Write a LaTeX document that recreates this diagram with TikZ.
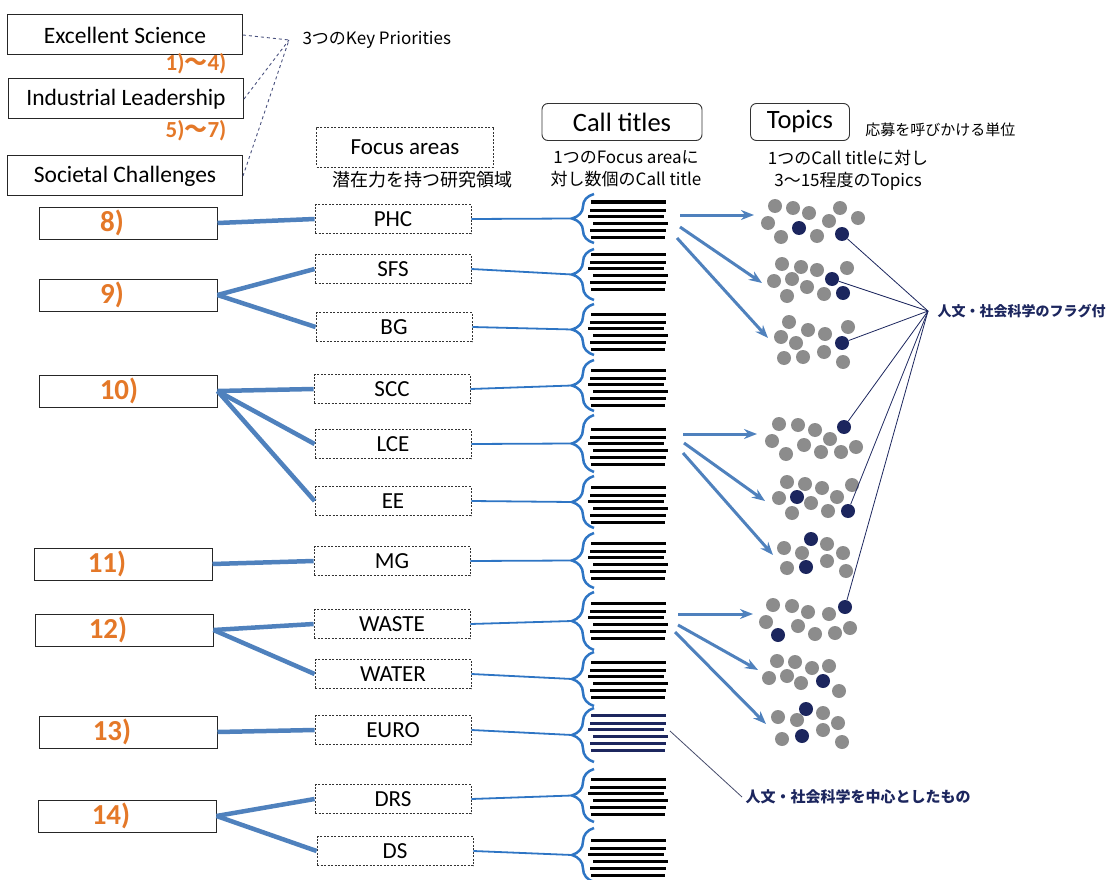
\documentclass[tikz,border=0pt]{standalone}
\usepackage{fontspec}
\setmainfont{Carlito}
\newfontfamily\jp{Noto Sans CJK JP}
\usetikzlibrary{arrows.meta}
\usetikzlibrary{positioning}
\usetikzlibrary{decorations.pathreplacing}
\definecolor{hzorange}{RGB}{228,120,40}
\definecolor{hzblue}{RGB}{79,129,189}
\definecolor{hzbrace}{RGB}{46,117,196}
\definecolor{hznavy}{RGB}{28,38,94}
\definecolor{hzgrey}{RGB}{140,140,140}

\begin{document}
\begin{tikzpicture}[x=1pt,y=-1pt,
    kpbox/.style={draw=black!85,line width=1pt,minimum width=235pt,minimum height=40pt,font=\fontsize{23.5}{26}\selectfont},
    numbox/.style={draw=black!85,line width=1pt,minimum width=178pt,minimum height=32pt},
    numtxt/.style={text=hzorange,font=\fontsize{29}{31}\selectfont\bfseries,xshift=-16pt},
    ordtxt/.style={text=hzorange,font=\fontsize{23}{25}\selectfont\bfseries},
    fabox/.style={draw=black!80,dash pattern=on 2pt off 1.5pt,line width=0.8pt,minimum width=156pt,minimum height=29pt,font=\fontsize{23}{25}\selectfont},
    headbox/.style={draw=black!80,rounded corners=6pt,line width=0.9pt,minimum height=37pt,font=\fontsize{26.5}{28}\selectfont},
    jptxt/.style={font=\jp\fontsize{17}{22}\selectfont,align=center},
    flagtxt/.style={text=hznavy,font=\jp\bfseries\fontsize{14}{16}\selectfont},
    kpline/.style={hznavy!80,dashed,line width=0.9pt},
    biglink/.style={hzblue,line width=4.5pt},
    thinlink/.style={hzbrace,line width=1.8pt},
    callbrace/.style={hzbrace,line width=2.5pt,decorate,decoration={brace,amplitude=22pt}},
    bar/.style={line width=3pt},
    callarrow/.style={hzblue,line width=3pt,-{Stealth[length=13pt,width=10pt]}},
    gdot/.style={circle,fill=hzgrey,minimum size=14pt,inner sep=0pt},
    ndot/.style={circle,fill=hznavy,minimum size=14pt,inner sep=0pt},
    flagline/.style={hznavy,line width=0.8pt}]
  \useasboundingbox (0,0) rectangle (1109,880);

  % key priorities
  \node[kpbox] (es) at (125,35) {Excellent Science};
  \node[kpbox] (il) at (126,99) {Industrial Leadership};
  \node[kpbox] (sc) at (125,176) {Societal Challenges};
  \node[ordtxt] (r14) at (196,64) {1){\jp\bfseries 〜}4)};
  \node[ordtxt] (r57) at (196,131) {5){\jp\bfseries 〜}7)};
  \coordinate (kp) at (289,40);
  \node[jptxt,font=\jp\fontsize{17}{19}\selectfont,right=10pt of kp] (kpt) {3つのKey Priorities};
  \foreach \b in {es,il,sc} \draw[kpline] (\b.east) -- (kp);

  % column heads
  \node[fabox,minimum width=177pt,minimum height=40pt] (fa) at (405,147) {Focus areas};
  \node[jptxt,font=\jp\fontsize{18}{20}\selectfont,below=0pt of fa,xshift=17pt] (fat) {潜在力を持つ研究領域};
  \node[headbox,minimum width=160pt] (ct) at (622,122) {Call titles};
  \node[jptxt] (ctt) at (626,169) {1つのFocus areaに\\対し数個のCall title};
  \node[headbox,minimum width=99pt] (tp) at (800,122) {Topics};
  \node[jptxt,font=\jp\fontsize{15}{17}\selectfont,right=12pt of tp,yshift=-8pt] (tpu) {応募を呼びかける単位};
  \node[jptxt] (tpt) at (848,170) {1つのCall titleに対し\\3〜15程度のTopics};

  % challenges
  \node[numbox,label={[numtxt]center:8)}] (n8) at (128,223) {};
  \node[numbox,label={[numtxt]center:9)}] (n9) at (128,295) {};
  \node[numbox,label={[numtxt,xshift=7pt]center:10)}] (n10) at (128,391) {};
  \node[numbox,label={[numtxt]center:11)}] (n11) at (123,564) {};
  \node[numbox,label={[numtxt]center:12)}] (n12) at (124,630) {};
  \node[numbox,label={[numtxt]center:13)}] (n13) at (128,732) {};
  \node[numbox,label={[numtxt]center:14)}] (n14) at (127,816) {};

  % focus areas
  \node[fabox] (phc) at (393,219) {PHC};
  \node[fabox] (sfs) at (393,269) {SFS};
  \node[fabox] (bg) at (394,327) {BG};
  \node[fabox] (scc) at (392,389) {SCC};
  \node[fabox] (lce) at (393,444) {LCE};
  \node[fabox] (ee) at (393,501) {EE};
  \node[fabox] (mg) at (392,561) {MG};
  \node[fabox] (waste) at (392,624) {WASTE};
  \node[fabox] (water) at (393,674) {WATER};
  \node[fabox] (euro) at (393,730) {EURO};
  \node[fabox] (drs) at (393,799) {DRS};
  \node[fabox] (ds) at (395,851) {DS};

  \draw[biglink] (n8.east) -- (phc.west);
  \foreach \f in {sfs,bg} \draw[biglink] (n9.east) -- (\f.west);
  \foreach \f in {scc,lce,ee} \draw[biglink] (n10.east) -- (\f.west);
  \draw[biglink] (n11.east) -- (mg.west);
  \foreach \f in {waste,water} \draw[biglink] (n12.east) -- (\f.west);
  \draw[biglink] (n13.east) -- (euro.west);
  \foreach \f in {drs,ds} \draw[biglink] (n14.east) -- (\f.west);

  % call titles
  \foreach \g/\c in {202/black,254/black,314/black,370/black,429/black,487/black,543/black,603/black,662/black,715/hznavy,779/black,840/black}
    \foreach \dy/\xa/\xb in {0/591/666,8/590/666,14/588/664,21/593/668,28/590/666,35/591/665}
      \draw[bar,\c] (\xa,\g+\dy) -- (\xb,\g+\dy);
  \foreach \t/\b [count=\i] in {194/243,249/300,304/355,360/411,415/472,476/528,533/588,592/650,652/706,708/762,769/822,828/882} {
    \draw[callbrace] (594,\b) -- (594,\t);
    \coordinate (br\i) at (572,{(\t+\b)/2});
  }
  \foreach \f [count=\i] in {phc,sfs,bg,scc,lce,ee,mg,waste,water,euro,drs,ds}
    \draw[thinlink] (\f.east) -- (br\i);

  % topics
  \foreach \x/\y [count=\k] in {775/206,793/208,809/213,840/208,858/218,768/223,829/221,781/237,817/236,
      782/264,801/267,817/270,847/268,774/281,792/279,807/287,787/296,824/294,
      789/322,808/330,848/327,781/337,825/334,796/343,784/358,803/357,824/352,843/362,
      779/424,798/425,815/430,772/441,830/439,786/454,804/445,821/452,841/452,856/447,
      787/482,805/484,822/488,852/485,779/498,811/503,837/497,792/513,828/511,
      827/544,784/548,802/553,843/553,827/561,787/568,846/571,
      773/605,792/606,808/612,829/614,766/622,798/626,850/628,815/634,835/633,
      777/661,795/662,812/668,829/666,769/678,787/676,801/683,839/691,
      823/713,778/717,797/720,838/723,823/730,782/739,842/742}
    \node[gdot] (g\k) at (\x,\y) {};
  \foreach \n/\x/\y in {na1/799/228,na2/842/234,nb1/832/279,nb2/843/293,nc1/842/343,nd1/844/427,
      ne1/797/497,ne2/848/511,nf1/811/539,nf2/806/567,ng1/845/607,ng2/778/635,nh1/823/681,ni1/806/709,ni2/802/736}
    \node[ndot] (\n) at (\x,\y) {};

  \foreach \n/\sx/\sy/\ex/\ey in {1/680/215/754/215,2/680/227/762/283,3/677/238/768/338,
      4/683/434/757/434,5/684/443/765/501,6/683/453/773/555,
      7/678/614/753/614,8/678/625/758/670,9/675/632/766/724} {
    \coordinate (s\n) at (\sx,\sy);
    \coordinate (e\n) at (\ex,\ey);
    \draw[callarrow] (s\n) -- (e\n);
  }

  % flags
  \coordinate (hub) at (928,311);
  \node[flagtxt,right=6pt of hub] (flag) {人文・社会科学のフラグ付};
  \foreach \n in {na2,nb1,nc1,nd1,ne2,ng1} \draw[flagline] (\n) -- (hub);
  \coordinate (eu) at (670,731);
  \node[flagtxt,font=\jp\bfseries\fontsize{15}{17}\selectfont,anchor=west] (human) at (742,797) {人文・社会科学を中心としたもの};
  \draw[flagline,hznavy!55!gray] (eu) -- (human.west);
\end{tikzpicture}
\end{document}
